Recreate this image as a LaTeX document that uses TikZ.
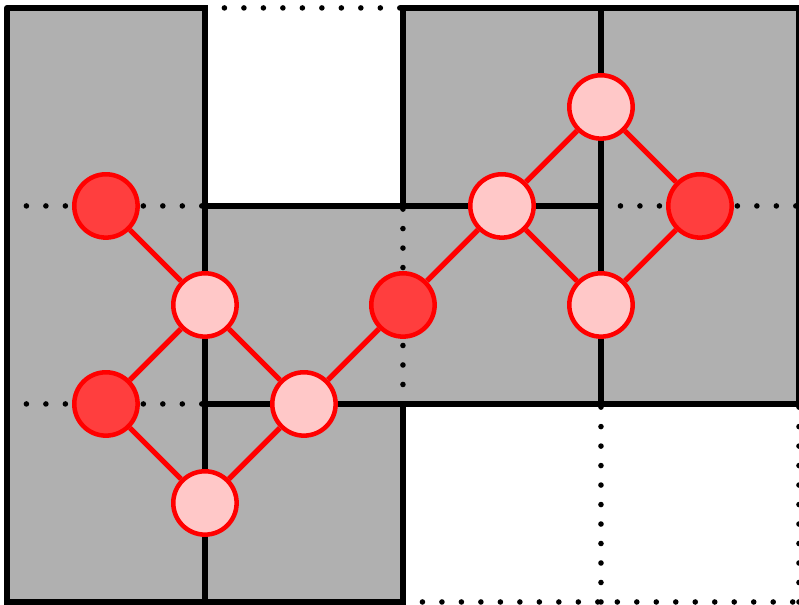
\documentclass[tikz,border=0pt]{standalone}
\usetikzlibrary{calc}
\definecolor{tilegray}{RGB}{176,176,176}
\definecolor{dotred}{RGB}{255,0,0}
\definecolor{darkfill}{RGB}{255,62,62}
\definecolor{lightfill}{RGB}{255,200,200}

\begin{document}
\begin{tikzpicture}[x=2cm, y=2cm, line join=round,
	wall/.style={black, line width=1.6pt, line cap=rect},
	gap/.style={black, line width=1.6pt, line cap=round, dash pattern=on 0pt off 5.6pt},
	bond/.style={dotred, line width=1.5pt},
	darkdot/.style={circle, draw=dotred, fill=darkfill, line width=1.3pt, minimum size=0.64cm, inner sep=0pt},
	lightdot/.style={circle, draw=dotred, fill=lightfill, line width=1.3pt, minimum size=0.64cm, inner sep=0pt}]

\useasboundingbox (-0.035,-0.015) rectangle (4.0,3.04);

%========================
% gray tiles
%========================
\fill[tilegray] (0,0) -- (2,0) -- (2,1) -- (4,1) -- (4,3) -- (2,3) -- (2,2)
	-- (1,2) -- (1,3) -- (0,3) -- cycle;

% dotted borders (empty or inner)
\draw[gap] (1,3) -- (2,3);
\draw[gap] (2,0) -- (4,0);
\draw[gap] (4,0) -- (4,1);
\draw[gap] (3,0) -- (3,1);
\draw[gap] (2,1) -- (2,2);
\draw[gap] (0,2) -- (1,2);
\draw[gap] (0,1) -- (1,1);
\draw[gap] (3,2) -- (4,2);

% solid borders
\draw[wall] (0,0) -- (0,3) -- (1,3);
\draw[wall] (2,3) -- (4,3) -- (4,1);
\draw[wall] (0,0) -- (2,0);
\draw[wall] (1,0) -- (1,3);
\draw[wall] (2,2) -- (2,3);
\draw[wall] (2,0) -- (2,1);
\draw[wall] (3,1) -- (3,3);
\draw[wall] (1,2) -- (3,2);
\draw[wall] (1,1) -- (4,1);

%========================
% sites
%========================
\node[darkdot]  (a) at (0.5,2) {};
\node[lightdot] (b) at (1,1.5) {};
\node[darkdot]  (c) at (0.5,1) {};
\node[lightdot] (d) at (1,0.5) {};
\node[lightdot] (e) at (1.5,1) {};
\node[darkdot]  (f) at (2,1.5) {};
\node[lightdot] (g) at (2.5,2) {};
\node[lightdot] (h) at (3,2.5) {};
\node[darkdot]  (i) at (3.5,2) {};
\node[lightdot] (j) at (3,1.5) {};

% bonds
\draw[bond] (a) -- (b);
\draw[bond] (b) -- (c);
\draw[bond] (c) -- (d);
\draw[bond] (d) -- (e);
\draw[bond] (b) -- (e);
\draw[bond] (e) -- (f);
\draw[bond] (f) -- (g);
\draw[bond] (g) -- (h);
\draw[bond] (h) -- (i);
\draw[bond] (i) -- (j);
\draw[bond] (j) -- (g);

\end{tikzpicture}
\end{document}
